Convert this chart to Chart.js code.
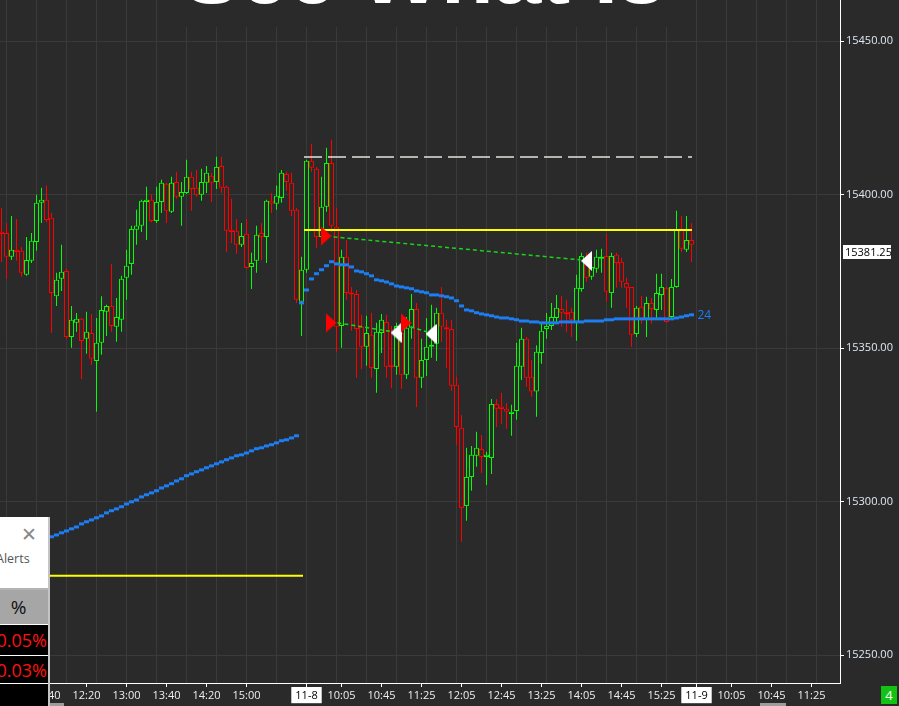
<!DOCTYPE html>
<html>
<head>
<meta charset="utf-8">
<script src="https://cdn.jsdelivr.net/npm/chart.js@4.4.0/dist/chart.umd.min.js"></script>
<style>
  html, body { margin: 0; padding: 0; background: #2a2a2a; overflow: hidden; }
  #wrap { position: relative; width: 899px; height: 706px; }
  #chart { position: absolute; left: 0; top: 0; }
  .panel { position: absolute; left: 0; top: 517px; width: 48px; height: 189px; background: #000;
           border-right: 2px solid #c4c4c4; overflow: hidden; font-family: "Open Sans", sans-serif; }
  .panel div { position: absolute; }
  .badge { position: absolute; left: 881px; top: 686px; width: 16px; height: 18px; background: #13c313;
           color: #fff; font: 13px "Open Sans", sans-serif; line-height: 18px; text-align: center; }
  .thumb { position: absolute; top: 703px; height: 3px; background: #9c9c9c; }
</style>
</head>
<body>
<div id="wrap">
  <canvas id="chart" width="899" height="706"></canvas>
  <div class="panel">
    <div style="left:0;top:0;width:48px;height:71px;background:#fff;"></div>
    <div style="left:21px;top:4px;color:#8a8a8a;font-size:19px;font-weight:300;">&#x2715;</div>
    <div style="left:-4px;top:33px;color:#555;font-size:12.5px;">Alerts</div>
    <div style="left:0;top:71px;width:48px;height:2px;background:#b4b4b4;"></div>
    <div style="left:0;top:73px;width:48px;height:34px;background:#a6a6a6;"></div>
    <div style="left:0;top:73px;width:37px;line-height:34px;text-align:center;color:#111;font-size:19px;">%</div>
    <div style="left:0;top:107px;width:48px;height:1px;background:#fff;"></div>
    <div style="right:1px;top:109px;line-height:28px;color:#ff1010;font-size:18px;">0.05%</div>
    <div style="left:0;top:138px;width:48px;height:1px;background:#fff;"></div>
    <div style="right:1px;top:139px;line-height:28px;color:#ff1010;font-size:18px;">0.03%</div>
    <div style="left:0;top:166px;width:48px;height:1px;background:#fff;"></div>
  </div>
  <div class="thumb" style="left:50px;width:14px;"></div>
  <div class="thumb" style="left:760px;width:26px;"></div>
  <div class="badge">4</div>
</div>
<script>
// bars are 5-minute candles; slot 0 = 11:00 on the first day, slot 60 = 9:30 on 11-8
const firstSlot = -1;

const opens = [
  15387.8, 15387.5, 15379.7, 15382.0, 15381.7, 15373.9, 15378.4, 15384.5, 15397.3, 15398.3,
  15392.4, 15366.9, 15372.6, 15375.1, 15353.6, 15358.2, 15359.5, 15353.0, 15354.9, 15345.8,
  15351.7, 15361.8, 15363.7, 15356.9, 15359.2, 15372.9, 15377.4, 15388.5, 15389.8, 15397.6,
  15398.3, 15391.4, 15397.6, 15403.5, 15394.4, 15404.1, 15399.3, 15400.5, 15405.8, 15402.2,
  15399.9, 15403.8, 15406.1, 15404.1, 15409.3, 15402.5, 15388.5, 15388.2, 15383.6, 15387.2,
  15376.4, 15378.4, 15387.5, 15386.2, 15398.0, 15397.0, 15398.9, 15406.7, 15403.8, 15395.0,
  15365.1, 15375.5, 15411.0, 15408.4, 15386.2, 15396.0, 15410.3, 15389.5, 15357.2, 15379.7,
  15367.9, 15367.6, 15356.9, 15350.4, 15354.3, 15343.2, 15354.9, 15358.5, 15344.2, 15343.9,
  15354.9, 15341.3, 15356.6, 15362.7, 15340.3, 15346.1, 15350.4, 15351.4, 15361.5, 15356.6,
  15356.2, 15338.0, 15324.0, 15298.5, 15308.0, 15314.9, 15317.1, 15314.5, 15314.2, 15331.8,
  15330.8, 15330.2, 15328.5, 15329.5, 15343.9, 15353.0, 15340.6, 15335.8, 15348.4, 15356.2,
  15357.2, 15359.8, 15362.7, 15361.5, 15361.8, 15358.5, 15369.2, 15378.7, 15373.2, 15375.8,
  15379.1, 15380.0, 15367.9, 15380.4, 15378.1, 15371.2, 15369.9, 15354.6, 15363.4, 15359.5,
  15364.7, 15362.4, 15367.3, 15369.6, 15360.1, 15369.9, 15388.5, 15382.0, 15385.2
];
const highs = [
  15395.7, 15390.7, 15393.0, 15392.0, 15382.9, 15386.2, 15387.5, 15399.9, 15402.2, 15402.9,
  15394.0, 15374.5, 15383.6, 15375.8, 15363.7, 15361.4, 15359.8, 15361.8, 15361.1, 15359.8,
  15366.9, 15364.1, 15377.4, 15366.3, 15373.5, 15382.0, 15389.8, 15395.0, 15398.3, 15402.5,
  15400.2, 15402.5, 15404.8, 15403.8, 15405.8, 15407.4, 15404.1, 15411.3, 15407.4, 15408.0,
  15408.4, 15409.3, 15407.1, 15412.3, 15412.3, 15402.9, 15398.6, 15392.0, 15390.7, 15392.0,
  15381.0, 15389.8, 15390.7, 15398.3, 15400.5, 15402.9, 15408.0, 15407.4, 15407.1, 15395.7,
  15379.7, 15411.3, 15416.5, 15409.0, 15405.8, 15415.2, 15417.8, 15395.7, 15382.0, 15385.2,
  15369.9, 15368.9, 15360.8, 15360.5, 15361.4, 15358.2, 15361.1, 15360.8, 15357.2, 15358.2,
  15358.2, 15360.1, 15367.6, 15364.7, 15353.0, 15359.8, 15364.1, 15363.1, 15369.9, 15359.2,
  15359.2, 15340.6, 15328.2, 15317.5, 15318.1, 15322.7, 15321.7, 15316.2, 15333.4, 15333.4,
  15335.4, 15332.1, 15331.5, 15351.7, 15356.6, 15353.6, 15346.1, 15350.9, 15358.2, 15361.4,
  15364.7, 15367.3, 15367.0, 15365.7, 15363.1, 15373.9, 15381.0, 15381.0, 15381.3, 15382.0,
  15382.3, 15387.2, 15381.0, 15381.0, 15379.4, 15372.9, 15369.9, 15363.7, 15367.0, 15366.7,
  15366.3, 15374.2, 15374.2, 15369.9, 15372.5, 15394.7, 15393.0, 15393.0, 15390.7
];
const lows = [
  15378.0, 15372.6, 15378.7, 15378.4, 15373.2, 15373.5, 15377.7, 15381.7, 15390.7, 15391.0,
  15354.9, 15363.7, 15368.6, 15353.0, 15350.1, 15355.3, 15339.9, 15348.1, 15344.5, 15329.2,
  15347.8, 15353.9, 15355.3, 15352.0, 15355.3, 15365.7, 15373.9, 15383.6, 15387.8, 15385.2,
  15391.0, 15390.7, 15394.0, 15390.7, 15394.0, 15398.6, 15389.8, 15400.2, 15394.7, 15399.3,
  15398.0, 15400.5, 15397.6, 15401.8, 15400.5, 15381.3, 15384.2, 15380.7, 15382.9, 15375.8,
  15369.2, 15374.5, 15378.7, 15377.7, 15394.0, 15395.0, 15397.3, 15401.2, 15393.0, 15364.7,
  15353.9, 15374.5, 15407.4, 15382.6, 15385.2, 15394.4, 15387.8, 15348.8, 15350.1, 15365.7,
  15355.6, 15340.3, 15343.2, 15344.2, 15340.3, 15335.4, 15348.4, 15340.3, 15337.0, 15341.3,
  15336.7, 15339.9, 15353.0, 15330.8, 15337.0, 15340.9, 15346.8, 15345.8, 15352.0, 15343.5,
  15336.1, 15318.4, 15286.9, 15293.7, 15303.5, 15311.3, 15309.3, 15305.4, 15309.0, 15324.3,
  15325.3, 15323.7, 15321.4, 15326.6, 15339.6, 15337.4, 15334.1, 15327.6, 15344.9, 15353.0,
  15355.9, 15358.5, 15356.9, 15355.3, 15353.6, 15352.4, 15368.3, 15371.6, 15372.2, 15374.5,
  15374.5, 15365.1, 15363.1, 15369.6, 15369.6, 15363.1, 15350.4, 15353.6, 15357.9, 15353.6,
  15357.9, 15359.5, 15362.4, 15358.2, 15359.2, 15369.6, 15381.3, 15381.3, 15378.0
];
const closes = [
  15387.2, 15379.7, 15382.0, 15381.3, 15374.5, 15378.7, 15384.9, 15397.3, 15398.3, 15391.7,
  15367.9, 15372.2, 15374.8, 15353.6, 15359.2, 15359.5, 15352.3, 15355.3, 15346.5, 15351.7,
  15362.4, 15363.7, 15357.2, 15360.1, 15372.6, 15376.8, 15388.8, 15389.9, 15398.0, 15398.3,
  15391.4, 15397.6, 15403.8, 15394.7, 15403.8, 15399.3, 15400.8, 15405.8, 15401.8, 15399.9,
  15404.1, 15407.1, 15403.8, 15409.0, 15402.2, 15388.2, 15387.8, 15383.6, 15386.5, 15376.1,
  15377.7, 15386.9, 15386.2, 15398.0, 15397.0, 15399.6, 15407.1, 15404.1, 15394.7, 15365.7,
  15375.5, 15411.0, 15408.7, 15386.2, 15396.0, 15410.3, 15389.8, 15356.9, 15379.7, 15367.9,
  15367.6, 15356.2, 15350.4, 15354.9, 15343.5, 15355.3, 15359.2, 15343.9, 15343.9, 15357.2,
  15341.3, 15356.6, 15362.7, 15340.3, 15346.1, 15350.4, 15351.1, 15361.5, 15356.9, 15356.2,
  15337.7, 15324.3, 15297.9, 15308.0, 15315.2, 15317.5, 15314.5, 15315.2, 15331.8, 15330.2,
  15330.2, 15329.2, 15329.2, 15344.2, 15353.0, 15340.3, 15335.8, 15348.8, 15355.6, 15357.2,
  15360.1, 15363.1, 15361.5, 15361.1, 15359.2, 15369.6, 15380.0, 15372.9, 15376.4, 15379.7,
  15379.7, 15368.3, 15380.0, 15377.7, 15371.6, 15369.6, 15354.3, 15363.1, 15359.2, 15364.7,
  15362.7, 15367.9, 15369.9, 15358.5, 15369.9, 15388.5, 15382.3, 15385.2, 15383.6
];

// moving average "24", two pieces as it shows on the chart
const maLowStart = 9;
const maLow = [
  15288.5, 15289.1, 15289.8, 15290.4, 15291.1, 15291.7, 15292.7, 15293.4, 15294.0, 15294.7,
  15295.3, 15296.3, 15297.0, 15297.6, 15298.3, 15299.2, 15299.9, 15300.5, 15301.5, 15302.2,
  15302.8, 15303.5, 15304.4, 15305.1, 15305.8, 15306.7, 15307.4, 15308.4, 15309.0, 15309.7,
  15310.3, 15311.0, 15311.6, 15312.3, 15312.9, 15313.6, 15314.2, 15314.9, 15315.2, 15315.8,
  15316.5, 15317.2, 15317.5, 15318.1, 15318.5, 15319.1, 15319.8, 15320.1, 15320.7, 15321.4
];
const maHighStart = 59;
const maHigh = [
  15364.7, 15368.9, 15372.5, 15374.2, 15375.5, 15376.8, 15378.1, 15377.4, 15377.1, 15377.1,
  15376.4, 15375.1, 15374.8, 15374.2, 15373.5, 15372.2, 15371.9, 15371.5, 15370.9, 15370.2,
  15369.9, 15369.6, 15369.3, 15368.6, 15368.3, 15368.0, 15367.3, 15367.3, 15367.0, 15366.7,
  15366.3, 15365.4, 15363.7, 15362.4, 15362.1, 15361.5, 15361.1, 15360.8, 15360.5, 15360.1,
  15359.8, 15359.8, 15359.5, 15359.2, 15358.8, 15358.8, 15358.5, 15358.5, 15358.2, 15358.2,
  15358.2, 15358.2, 15358.5, 15358.5, 15358.5, 15358.5, 15358.5, 15358.8, 15358.8, 15358.8,
  15358.8, 15359.2, 15359.2, 15359.5, 15359.5, 15359.5, 15359.5, 15359.5, 15359.5, 15359.5,
  15359.5, 15359.5, 15359.5, 15359.5, 15359.5, 15359.8, 15360.1, 15360.5, 15360.8
];
const maName = '24';

// horizontal levels: [price, fromSlot, toSlot]
const yellowLevels = [[15388.4, 59.5, 137.1], [15275.8, -1.3, 59.3]];
const dashedLevel = [15412.2, 59.5, 137.1];

// signal connectors: [fromSlot, fromPrice, toSlot, toPrice]
const signalLines = [
  [65.4, 15386.2, 114.8, 15378.7],
  [66.2, 15358.2, 77.2, 15355.3],
  [80.8, 15356.9, 84.0, 15355.3]
];
const buyMarkSlots = [63.9, 64.9, 79.9];
const buyMarkPrices = [15386.5, 15358.2, 15358.2];
const sellMarkSlots = [77.9, 84.9, 116.0];
const sellMarkPrices = [15355.0, 15354.6, 15378.4];

const lastPrice = 15381.25;
const priceTicks = [15250, 15300, 15350, 15400, 15450];
const timeTickSlots = [8, 16, 24, 32, 40, 48, 60, 67, 75, 83, 91, 99, 107, 115, 123, 131, 138, 145, 153, 161];
const timeTickLabels = ['11:40', '12:20', '13:00', '13:40', '14:20', '15:00', '11-8', '10:05', '10:45', '11:25',
  '12:05', '12:45', '13:25', '14:05', '14:45', '15:25', '11-9', '10:05', '10:45', '11:25'];
const titleText = 'See What Is';

const BG = '#2a2a2a';
const GRID = '#3a3a3a';
const UP = '#00ff00';
const DOWN = '#ff0000';
const MA_BLUE = '#1c7ef2';

const isDay = (i) => /^\d+-\d+$/.test(timeTickLabels[i] || '');

const wickData = [];
const bodyData = [];
const candleColors = [];
opens.forEach((o, i) => {
  const slot = firstSlot + i;
  const c = closes[i];
  candleColors.push(c >= o ? UP : DOWN);
  wickData.push({ x: slot, y: [lows[i], highs[i]] });
  let a = o, b = c;
  if (Math.abs(a - b) < 0.66) {
    const m = (a + b) / 2;
    a = m - 0.33;
    b = m + 0.33;
  }
  bodyData.push({ x: slot, y: [a, b] });
});

const maPoints = maLow.map((v, i) => ({ x: maLowStart + i, y: v }))
  .concat(maHigh.map((v, i) => ({ x: maHighStart + i, y: v })));

function triangle(color, pointRight) {
  const c = document.createElement('canvas');
  c.width = 11;
  c.height = 20;
  const g = c.getContext('2d');
  g.fillStyle = color;
  g.beginPath();
  if (pointRight) {
    g.moveTo(0, 0); g.lineTo(11, 10); g.lineTo(0, 20);
  } else {
    g.moveTo(11, 0); g.lineTo(0, 10); g.lineTo(11, 20);
  }
  g.closePath();
  g.fill();
  return c;
}

const levelSet = (lvl, color, dash, width) => ({
  type: 'line',
  data: [{ x: lvl[1], y: lvl[0] }, { x: lvl[2], y: lvl[0] }],
  borderColor: color,
  borderWidth: width,
  borderDash: dash,
  pointRadius: 0
});

const overlay = {
  id: 'overlay',
  afterDraw(chart) {
    const { ctx } = chart;
    const y = chart.scales.y;
    const x = chart.scales.x;
    ctx.save();
    // big caption at the top, mostly off screen
    ctx.fillStyle = BG;
    ctx.fillRect(176, 0, 496, 27);
    ctx.fillStyle = '#ffffff';
    ctx.font = 'bold 86px "Liberation Sans"';
    ctx.textBaseline = 'alphabetic';
    ctx.fillText(titleText, 183, 3);

    // last price tag
    const py = Math.round(y.getPixelForValue(lastPrice));
    ctx.fillStyle = '#ffffff';
    ctx.fillRect(843, py - 7, 48, 14);
    ctx.fillStyle = '#000000';
    ctx.font = '11px "Open Sans"';
    ctx.textBaseline = 'middle';
    ctx.fillText(lastPrice.toFixed(2), 845, py + 1);

    // MA name at its last value
    const lastMa = maHigh[maHigh.length - 1];
    ctx.fillStyle = MA_BLUE;
    ctx.font = '12px "Open Sans"';
    ctx.fillText(maName, x.getPixelForValue(maHighStart + maHigh.length - 1) + 6, y.getPixelForValue(lastMa) + 1);
    ctx.restore();
  }
};

const gridSlots = [];
for (let s = 0; s <= 166; s += 6) gridSlots.push(s);

new Chart(document.getElementById('chart'), {
  type: 'bar',
  data: {
    datasets: [
      {
        type: 'line',
        data: buyMarkSlots.map((s, i) => ({ x: s, y: buyMarkPrices[i] })),
        showLine: false,
        pointStyle: triangle(DOWN, true),
        pointRadius: 10
      },
      {
        type: 'line',
        data: sellMarkSlots.map((s, i) => ({ x: s, y: sellMarkPrices[i] })),
        showLine: false,
        pointStyle: triangle('#ffffff', false),
        pointRadius: 10
      },
      ...signalLines.map((l) => ({
        type: 'line',
        data: [{ x: l[0], y: l[1] }, { x: l[2], y: l[3] }],
        borderColor: '#19d419',
        borderWidth: 1.5,
        borderDash: [4, 3],
        pointRadius: 0
      })),
      {
        type: 'line',
        data: maPoints,
        showLine: false,
        pointStyle: 'line',
        pointRadius: 2.5,
        pointBorderWidth: 3,
        pointBorderColor: MA_BLUE
      },
      levelSet(yellowLevels[0], '#ffff00', [], 2),
      levelSet(yellowLevels[1], '#ffff00', [], 2),
      levelSet(dashedLevel, '#e4e4dc', [18, 6], 1.5),
      {
        type: 'bar',
        data: bodyData,
        backgroundColor: BG,
        borderColor: candleColors,
        borderWidth: 1,
        borderSkipped: false,
        barThickness: 5,
        grouped: false,
        inflateAmount: 0
      },
      {
        type: 'bar',
        data: wickData,
        backgroundColor: candleColors,
        borderWidth: 0,
        barThickness: 1,
        grouped: false,
        inflateAmount: 0
      }
    ]
  },
  options: {
    responsive: false,
    animation: false,
    events: [],
    layout: { padding: 0, autoPadding: false },
    plugins: {
      legend: { display: false },
      tooltip: { enabled: false }
    },
    scales: {
      x: {
        type: 'linear',
        position: 'bottom',
        min: -1.3,
        max: 166.7,
        offset: false,
        afterBuildTicks: (s) => { s.ticks = timeTickSlots.map((v) => ({ value: v })); },
        afterFit: (s) => { s.height = 23; s.paddingLeft = 0; s.paddingRight = 0; },
        grid: { offset: false, drawOnChartArea: false, tickLength: 4, tickColor: '#ffffff' },
        border: { color: '#ffffff', width: 1 },
        ticks: {
          autoSkip: false,
          maxRotation: 0,
          padding: 2,
          font: { family: 'Open Sans', size: 11 },
          color: (c) => (isDay(c.index) ? '#000000' : '#eeeeee'),
          showLabelBackdrop: (c) => isDay(c.index),
          backdropColor: '#ffffff',
          backdropPadding: { top: 2, bottom: 1, left: 4, right: 4 },
          callback: (v, i) => timeTickLabels[i]
        }
      },
      xg: {
        type: 'linear',
        position: 'top',
        min: -1.3,
        max: 166.7,
        offset: false,
        afterBuildTicks: (s) => { s.ticks = gridSlots.map((v) => ({ value: v })); },
        afterFit: (s) => { s.height = 0; s.paddingLeft = 0; s.paddingRight = 0; },
        ticks: { display: false },
        grid: { offset: false, color: GRID, drawTicks: false },
        border: { display: false }
      },
      y: {
        type: 'linear',
        position: 'right',
        min: 15240.88,
        max: 15463.36,
        beginAtZero: false,
        afterBuildTicks: (s) => { s.ticks = priceTicks.map((v) => ({ value: v })); },
        afterFit: (s) => { s.width = 59; s.paddingTop = 0; s.paddingBottom = 0; },
        grid: { color: GRID, tickLength: 4, tickColor: '#ffffff' },
        border: { color: '#ffffff', width: 1 },
        ticks: {
          padding: 2,
          color: '#dfe8f2',
          font: { family: 'Open Sans', size: 11 },
          callback: (v) => Number(v).toFixed(2)
        }
      }
    }
  },
  plugins: [overlay]
});
</script>
</body>
</html>
